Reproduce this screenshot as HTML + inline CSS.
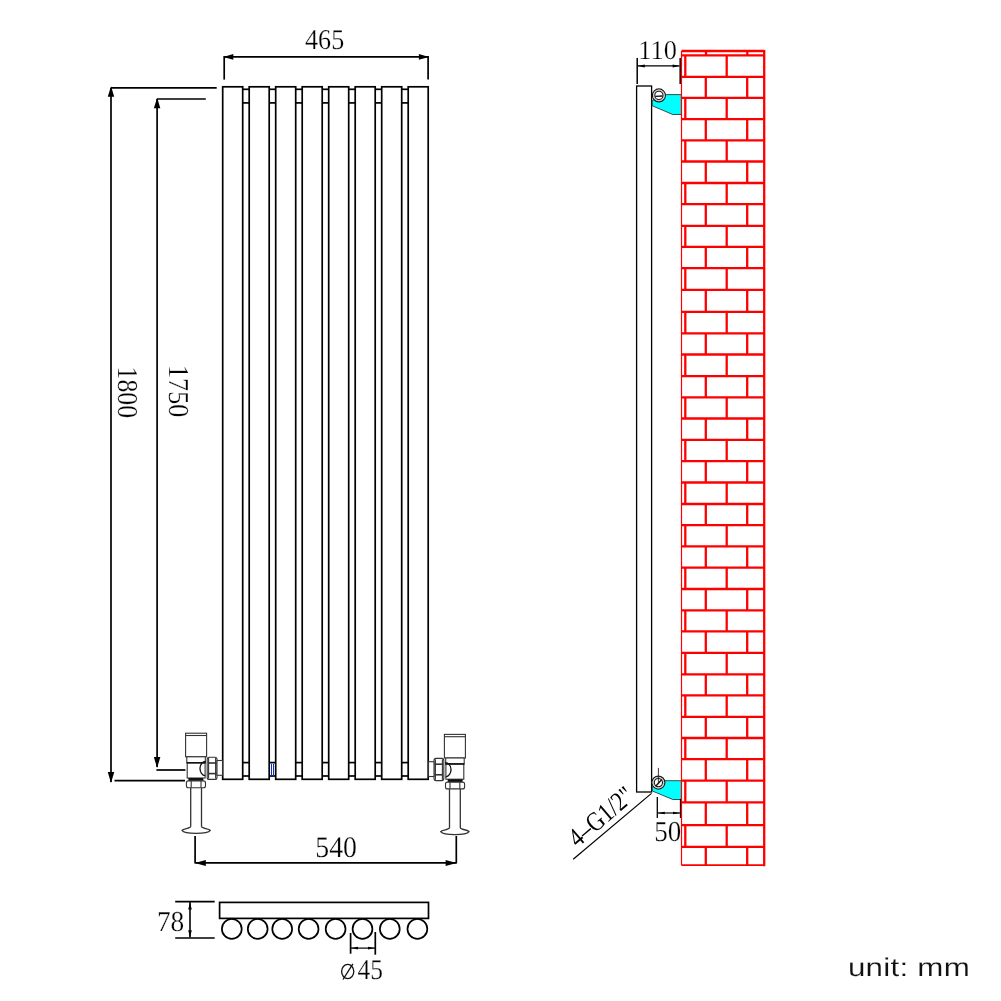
<!DOCTYPE html><html><head><meta charset="utf-8"><style>html,body{margin:0;padding:0;background:#fff;}svg{display:block;will-change:transform;}</style></head><body>
<svg width="1001" height="1001" viewBox="0 0 1001 1001">
<g fill="none" stroke="#000" stroke-width="1.7">
<rect x="222.70" y="86.8" width="20.0" height="692.50"/>
<rect x="249.20" y="86.8" width="20.0" height="692.50"/>
<rect x="275.70" y="86.8" width="20.0" height="692.50"/>
<rect x="302.20" y="86.8" width="20.0" height="692.50"/>
<rect x="328.70" y="86.8" width="20.0" height="692.50"/>
<rect x="355.20" y="86.8" width="20.0" height="692.50"/>
<rect x="381.70" y="86.8" width="20.0" height="692.50"/>
<rect x="408.20" y="86.8" width="20.0" height="692.50"/>
<line x1="242.70" y1="89.3" x2="249.20" y2="89.3"/>
<line x1="242.70" y1="102.9" x2="249.20" y2="102.9"/>
<line x1="242.70" y1="762.6" x2="249.20" y2="762.6"/>
<line x1="242.70" y1="776.0" x2="249.20" y2="776.0"/>
<line x1="269.20" y1="89.3" x2="275.70" y2="89.3"/>
<line x1="269.20" y1="102.9" x2="275.70" y2="102.9"/>
<line x1="269.20" y1="762.6" x2="275.70" y2="762.6"/>
<line x1="269.20" y1="776.0" x2="275.70" y2="776.0"/>
<line x1="295.70" y1="89.3" x2="302.20" y2="89.3"/>
<line x1="295.70" y1="102.9" x2="302.20" y2="102.9"/>
<line x1="295.70" y1="762.6" x2="302.20" y2="762.6"/>
<line x1="295.70" y1="776.0" x2="302.20" y2="776.0"/>
<line x1="322.20" y1="89.3" x2="328.70" y2="89.3"/>
<line x1="322.20" y1="102.9" x2="328.70" y2="102.9"/>
<line x1="322.20" y1="762.6" x2="328.70" y2="762.6"/>
<line x1="322.20" y1="776.0" x2="328.70" y2="776.0"/>
<line x1="348.70" y1="89.3" x2="355.20" y2="89.3"/>
<line x1="348.70" y1="102.9" x2="355.20" y2="102.9"/>
<line x1="348.70" y1="762.6" x2="355.20" y2="762.6"/>
<line x1="348.70" y1="776.0" x2="355.20" y2="776.0"/>
<line x1="375.20" y1="89.3" x2="381.70" y2="89.3"/>
<line x1="375.20" y1="102.9" x2="381.70" y2="102.9"/>
<line x1="375.20" y1="762.6" x2="381.70" y2="762.6"/>
<line x1="375.20" y1="776.0" x2="381.70" y2="776.0"/>
<line x1="401.70" y1="89.3" x2="408.20" y2="89.3"/>
<line x1="401.70" y1="102.9" x2="408.20" y2="102.9"/>
<line x1="401.70" y1="762.6" x2="408.20" y2="762.6"/>
<line x1="401.70" y1="776.0" x2="408.20" y2="776.0"/>
</g>
<g stroke="#0a2fc8" stroke-width="1.0"><line x1="271.5" y1="763.8" x2="271.5" y2="775.8"/><line x1="273.5" y1="763.8" x2="273.5" y2="775.8"/></g>
<g stroke="#000" stroke-width="1.7" fill="none">
<line x1="224" y1="56.9" x2="428.2" y2="56.9"/>
<line x1="224.2" y1="56.0" x2="224.2" y2="79.6"/>
<line x1="428.1" y1="56.0" x2="428.1" y2="79.6"/>
<line x1="111" y1="88" x2="111" y2="782"/>
<line x1="111" y1="87.8" x2="216.7" y2="87.8"/>
<line x1="114.5" y1="780.7" x2="185" y2="780.7"/>
<line x1="157.1" y1="99" x2="157.1" y2="767"/>
<line x1="157.1" y1="99" x2="205.8" y2="99"/>
<line x1="156.4" y1="770" x2="185.4" y2="770"/>
<line x1="195.5" y1="862.9" x2="456" y2="862.9"/>
<line x1="195.1" y1="836" x2="195.1" y2="863.6"/>
<line x1="456.3" y1="836" x2="456.3" y2="863.6"/>
</g>
<path d="M223.30,56.90 L233.30,59.70 L233.30,54.10 Z" fill="#000" stroke="none"/>
<path d="M428.90,56.90 L418.90,54.10 L418.90,59.70 Z" fill="#000" stroke="none"/>
<path d="M111.00,86.30 L107.75,96.80 L114.25,96.80 Z" fill="#000" stroke="none"/>
<path d="M111.00,783.00 L114.25,772.00 L107.75,772.00 Z" fill="#000" stroke="none"/>
<path d="M157.10,97.80 L153.85,108.30 L160.35,108.30 Z" fill="#000" stroke="none"/>
<path d="M157.10,768.00 L160.35,757.00 L153.85,757.00 Z" fill="#000" stroke="none"/>
<path d="M194.80,862.90 L205.80,865.90 L205.80,859.90 Z" fill="#000" stroke="none"/>
<path d="M456.60,862.90 L445.60,859.90 L445.60,865.90 Z" fill="#000" stroke="none"/>
<g stroke="#000" stroke-width="1.7" fill="none">
<rect x="219.6" y="902.4" width="208.9" height="16"/>
<circle cx="231.8" cy="928.9" r="9.9"/>
<circle cx="257.7" cy="928.9" r="9.9"/>
<circle cx="282.2" cy="928.9" r="9.9"/>
<circle cx="308.6" cy="928.9" r="9.9"/>
<circle cx="335.6" cy="928.9" r="9.9"/>
<circle cx="362.5" cy="928.9" r="9.9"/>
<circle cx="389.8" cy="928.9" r="9.9"/>
<circle cx="417.4" cy="928.9" r="9.9"/>
<line x1="175.2" y1="901.7" x2="214.7" y2="901.7"/>
<line x1="175.2" y1="938" x2="214.7" y2="938"/>
<line x1="190.0" y1="902" x2="190.0" y2="937.5" stroke-width="1.6"/>
<line x1="350.6" y1="933" x2="350.6" y2="953.7"/>
<line x1="375.3" y1="932" x2="375.3" y2="954.7"/>
<line x1="351" y1="948.1" x2="375" y2="948.1" stroke-width="1.2"/>
</g>
<path d="M190.00,902.40 L188.20,909.60 L191.80,909.60 Z" fill="#000" stroke="none"/>
<path d="M190.00,937.40 L191.80,930.20 L188.20,930.20 Z" fill="#000" stroke="none"/>
<path d="M351.20,948.10 L358.00,949.40 L358.00,946.80 Z" fill="#000" stroke="none"/>
<path d="M374.80,948.10 L368.00,946.80 L368.00,949.40 Z" fill="#000" stroke="none"/>
<g stroke="#000" stroke-width="1.4" fill="none">
<rect x="636.6" y="86" width="15" height="706" stroke-width="1.3"/>
</g>
<path d="M664,94.6 L681.4,94.6 L681.4,114.5 L672.8,114.5 L652.3,105.8 L652.3,100.6 Z" fill="#00ffff" stroke="#222" stroke-width="0.8"/>
<path d="M664,780.7 L681.4,780.7 L681.4,799.5 L672.8,799.5 L652.3,791.0 L652.3,786.7 Z" fill="#00ffff" stroke="#222" stroke-width="0.8"/>
<circle cx="658.9" cy="95.4" r="6.5" fill="#fff" stroke="#1a1a1a" stroke-width="1.2"/><circle cx="658.9" cy="95.4" r="5.3" fill="none" stroke="#bbb" stroke-width="0.9"/><circle cx="658.9" cy="95.4" r="4.1" fill="#fff" stroke="#1a1a1a" stroke-width="1.1"/><line x1="655.3" y1="96.4" x2="662.5" y2="96.0" stroke="#111" stroke-width="1.3"/>
<circle cx="658.4" cy="782.6" r="6.5" fill="#fff" stroke="#1a1a1a" stroke-width="1.2"/><circle cx="658.4" cy="782.6" r="5.3" fill="none" stroke="#bbb" stroke-width="0.9"/><circle cx="658.4" cy="782.6" r="4.1" fill="#fff" stroke="#1a1a1a" stroke-width="1.1"/><line x1="655.6" y1="786.2" x2="661.6" y2="779.8000000000001" stroke="#111" stroke-width="1.3"/><line x1="658.4" y1="767.9" x2="658.4" y2="784.1" stroke="#222" stroke-width="0.9"/>
<g stroke="#000" stroke-width="1.5" fill="none">
<line x1="637.2" y1="58" x2="637.2" y2="84"/>
<line x1="680.2" y1="58" x2="680.2" y2="84"/>
<line x1="638" y1="65.9" x2="679.5" y2="65.9" stroke-width="1.3"/>
<line x1="657.3" y1="797" x2="657.3" y2="818" stroke-width="1.3"/>
<line x1="680.5" y1="798.9" x2="680.5" y2="818" stroke-width="1.3"/>
<line x1="658" y1="813" x2="680" y2="813" stroke-width="1.2"/>
<line x1="573.2" y1="859.2" x2="651.5" y2="793.4" stroke-width="1.2"/>
</g>
<path d="M637.80,65.90 L644.80,67.40 L644.80,64.40 Z" fill="#000" stroke="none"/>
<path d="M679.60,65.90 L672.60,64.40 L672.60,67.40 Z" fill="#000" stroke="none"/>
<path d="M657.80,813.00 L664.80,814.30 L664.80,811.70 Z" fill="#000" stroke="none"/>
<path d="M680.00,813.00 L673.00,811.70 L673.00,814.30 Z" fill="#000" stroke="none"/>
<g stroke="#ff0000" fill="none" stroke-width="2.3">
<line x1="681.5" y1="51.0" x2="681.5" y2="865.2" stroke-width="1.2"/>
<line x1="764.2" y1="50.0" x2="764.2" y2="866.2"/>
<line x1="681.5" y1="51.0" x2="764.2" y2="51.0"/>
<line x1="681.5" y1="865.2" x2="764.2" y2="865.2" stroke-width="1.8"/>
<line x1="681.5" y1="55.3" x2="764.2" y2="55.3"/>
<line x1="706" y1="51.0" x2="706" y2="55.3"/><line x1="747.3" y1="51.0" x2="747.3" y2="55.3"/>
<line x1="681.5" y1="76.80" x2="764.2" y2="76.80"/>
<line x1="681.5" y1="97.90" x2="764.2" y2="97.90"/>
<line x1="681.5" y1="119.10" x2="764.2" y2="119.10"/>
<line x1="681.5" y1="140.40" x2="764.2" y2="140.40"/>
<line x1="681.5" y1="161.50" x2="764.2" y2="161.50"/>
<line x1="681.5" y1="183.00" x2="764.2" y2="183.00"/>
<line x1="681.5" y1="204.10" x2="764.2" y2="204.10"/>
<line x1="681.5" y1="225.90" x2="764.2" y2="225.90"/>
<line x1="681.5" y1="246.80" x2="764.2" y2="246.80"/>
<line x1="681.5" y1="268.20" x2="764.2" y2="268.20"/>
<line x1="681.5" y1="289.90" x2="764.2" y2="289.90"/>
<line x1="681.5" y1="311.90" x2="764.2" y2="311.90"/>
<line x1="681.5" y1="333.30" x2="764.2" y2="333.30"/>
<line x1="681.5" y1="354.50" x2="764.2" y2="354.50"/>
<line x1="681.5" y1="376.10" x2="764.2" y2="376.10"/>
<line x1="681.5" y1="397.40" x2="764.2" y2="397.40"/>
<line x1="681.5" y1="418.50" x2="764.2" y2="418.50"/>
<line x1="681.5" y1="439.90" x2="764.2" y2="439.90"/>
<line x1="681.5" y1="461.10" x2="764.2" y2="461.10"/>
<line x1="681.5" y1="482.50" x2="764.2" y2="482.50"/>
<line x1="681.5" y1="504.00" x2="764.2" y2="504.00"/>
<line x1="681.5" y1="525.10" x2="764.2" y2="525.10"/>
<line x1="681.5" y1="546.40" x2="764.2" y2="546.40"/>
<line x1="681.5" y1="567.60" x2="764.2" y2="567.60"/>
<line x1="681.5" y1="589.00" x2="764.2" y2="589.00"/>
<line x1="681.5" y1="610.40" x2="764.2" y2="610.40"/>
<line x1="681.5" y1="631.40" x2="764.2" y2="631.40"/>
<line x1="681.5" y1="652.80" x2="764.2" y2="652.80"/>
<line x1="681.5" y1="674.30" x2="764.2" y2="674.30"/>
<line x1="681.5" y1="695.40" x2="764.2" y2="695.40"/>
<line x1="681.5" y1="716.90" x2="764.2" y2="716.90"/>
<line x1="681.5" y1="738.00" x2="764.2" y2="738.00"/>
<line x1="681.5" y1="759.20" x2="764.2" y2="759.20"/>
<line x1="681.5" y1="780.60" x2="764.2" y2="780.60"/>
<line x1="681.5" y1="802.30" x2="764.2" y2="802.30"/>
<line x1="681.5" y1="825.10" x2="764.2" y2="825.10"/>
<line x1="681.5" y1="846.80" x2="764.2" y2="846.80"/>
<line x1="685.3" y1="55.30" x2="685.3" y2="76.80"/>
<line x1="726.7" y1="55.30" x2="726.7" y2="76.80"/>
<line x1="705.8" y1="76.80" x2="705.8" y2="97.90"/>
<line x1="747.2" y1="76.80" x2="747.2" y2="97.90"/>
<line x1="685.3" y1="97.90" x2="685.3" y2="119.10"/>
<line x1="726.7" y1="97.90" x2="726.7" y2="119.10"/>
<line x1="705.8" y1="119.10" x2="705.8" y2="140.40"/>
<line x1="747.2" y1="119.10" x2="747.2" y2="140.40"/>
<line x1="685.3" y1="140.40" x2="685.3" y2="161.50"/>
<line x1="726.7" y1="140.40" x2="726.7" y2="161.50"/>
<line x1="705.8" y1="161.50" x2="705.8" y2="183.00"/>
<line x1="747.2" y1="161.50" x2="747.2" y2="183.00"/>
<line x1="685.3" y1="183.00" x2="685.3" y2="204.10"/>
<line x1="726.7" y1="183.00" x2="726.7" y2="204.10"/>
<line x1="705.8" y1="204.10" x2="705.8" y2="225.90"/>
<line x1="747.2" y1="204.10" x2="747.2" y2="225.90"/>
<line x1="685.3" y1="225.90" x2="685.3" y2="246.80"/>
<line x1="726.7" y1="225.90" x2="726.7" y2="246.80"/>
<line x1="705.8" y1="246.80" x2="705.8" y2="268.20"/>
<line x1="747.2" y1="246.80" x2="747.2" y2="268.20"/>
<line x1="685.3" y1="268.20" x2="685.3" y2="289.90"/>
<line x1="726.7" y1="268.20" x2="726.7" y2="289.90"/>
<line x1="705.8" y1="289.90" x2="705.8" y2="311.90"/>
<line x1="747.2" y1="289.90" x2="747.2" y2="311.90"/>
<line x1="685.3" y1="311.90" x2="685.3" y2="333.30"/>
<line x1="726.7" y1="311.90" x2="726.7" y2="333.30"/>
<line x1="705.8" y1="333.30" x2="705.8" y2="354.50"/>
<line x1="747.2" y1="333.30" x2="747.2" y2="354.50"/>
<line x1="685.3" y1="354.50" x2="685.3" y2="376.10"/>
<line x1="726.7" y1="354.50" x2="726.7" y2="376.10"/>
<line x1="705.8" y1="376.10" x2="705.8" y2="397.40"/>
<line x1="747.2" y1="376.10" x2="747.2" y2="397.40"/>
<line x1="685.3" y1="397.40" x2="685.3" y2="418.50"/>
<line x1="726.7" y1="397.40" x2="726.7" y2="418.50"/>
<line x1="705.8" y1="418.50" x2="705.8" y2="439.90"/>
<line x1="747.2" y1="418.50" x2="747.2" y2="439.90"/>
<line x1="685.3" y1="439.90" x2="685.3" y2="461.10"/>
<line x1="726.7" y1="439.90" x2="726.7" y2="461.10"/>
<line x1="705.8" y1="461.10" x2="705.8" y2="482.50"/>
<line x1="747.2" y1="461.10" x2="747.2" y2="482.50"/>
<line x1="685.3" y1="482.50" x2="685.3" y2="504.00"/>
<line x1="726.7" y1="482.50" x2="726.7" y2="504.00"/>
<line x1="705.8" y1="504.00" x2="705.8" y2="525.10"/>
<line x1="747.2" y1="504.00" x2="747.2" y2="525.10"/>
<line x1="685.3" y1="525.10" x2="685.3" y2="546.40"/>
<line x1="726.7" y1="525.10" x2="726.7" y2="546.40"/>
<line x1="705.8" y1="546.40" x2="705.8" y2="567.60"/>
<line x1="747.2" y1="546.40" x2="747.2" y2="567.60"/>
<line x1="685.3" y1="567.60" x2="685.3" y2="589.00"/>
<line x1="726.7" y1="567.60" x2="726.7" y2="589.00"/>
<line x1="705.8" y1="589.00" x2="705.8" y2="610.40"/>
<line x1="747.2" y1="589.00" x2="747.2" y2="610.40"/>
<line x1="685.3" y1="610.40" x2="685.3" y2="631.40"/>
<line x1="726.7" y1="610.40" x2="726.7" y2="631.40"/>
<line x1="705.8" y1="631.40" x2="705.8" y2="652.80"/>
<line x1="747.2" y1="631.40" x2="747.2" y2="652.80"/>
<line x1="685.3" y1="652.80" x2="685.3" y2="674.30"/>
<line x1="726.7" y1="652.80" x2="726.7" y2="674.30"/>
<line x1="705.8" y1="674.30" x2="705.8" y2="695.40"/>
<line x1="747.2" y1="674.30" x2="747.2" y2="695.40"/>
<line x1="685.3" y1="695.40" x2="685.3" y2="716.90"/>
<line x1="726.7" y1="695.40" x2="726.7" y2="716.90"/>
<line x1="705.8" y1="716.90" x2="705.8" y2="738.00"/>
<line x1="747.2" y1="716.90" x2="747.2" y2="738.00"/>
<line x1="685.3" y1="738.00" x2="685.3" y2="759.20"/>
<line x1="726.7" y1="738.00" x2="726.7" y2="759.20"/>
<line x1="705.8" y1="759.20" x2="705.8" y2="780.60"/>
<line x1="747.2" y1="759.20" x2="747.2" y2="780.60"/>
<line x1="685.3" y1="780.60" x2="685.3" y2="802.30"/>
<line x1="726.7" y1="780.60" x2="726.7" y2="802.30"/>
<line x1="705.8" y1="802.30" x2="705.8" y2="825.10"/>
<line x1="747.2" y1="802.30" x2="747.2" y2="825.10"/>
<line x1="685.3" y1="825.10" x2="685.3" y2="846.80"/>
<line x1="726.7" y1="825.10" x2="726.7" y2="846.80"/>
<line x1="705.8" y1="846.80" x2="705.8" y2="865.20"/>
<line x1="747.2" y1="846.80" x2="747.2" y2="865.20"/>
</g>
<g fill="#fff" stroke="#333" stroke-width="1.1"><rect x="185.6" y="733.2" width="21" height="23.6"/><line x1="185.6" y1="735.5" x2="206.6" y2="735.5"/><rect x="186.8" y="756.8" width="18.5" height="6"/><rect x="187.2" y="762.8" width="17.9" height="15.2"/><line x1="186.8" y1="762.8" x2="205.5" y2="762.8" stroke="#111" stroke-width="1.5"/><path d="M205.9,761.4 A5.6,7.1 0 0,0 205.3,775.6" fill="none" stroke="#111" stroke-width="1.3"/><rect x="207.2" y="757.2" width="9.8" height="22.2" rx="2"/><line x1="208.6" y1="758" x2="208.6" y2="778.6"/><line x1="215.6" y1="758" x2="215.6" y2="778.6"/><line x1="208" y1="763" x2="216.5" y2="763" stroke-width="1.6"/><line x1="208" y1="773.6" x2="216.5" y2="773.6" stroke-width="1.6"/><rect x="217" y="760.5" width="5.5" height="14.8"/><rect x="188.4" y="778" width="14.9" height="2.8" fill="#111" stroke="none"/><rect x="186.4" y="780.9" width="19.1" height="6.8" rx="2"/><line x1="191.2" y1="781" x2="191.2" y2="787.6"/><line x1="201" y1="781" x2="201" y2="787.6"/><path d="M190.7,787.7 V827 M201.5,787.7 V827" fill="none" stroke-width="1.3"/><path d="M190.7,826.8 C190,828.5 183,828.6 182,830.4 C183.5,832.6 190,833.4 196.1,833.4 C202.2,833.4 208.7,832.6 210.3,830.4 C209.2,828.6 202.2,828.5 201.5,826.8" stroke-width="1.3"/></g>
<g transform="translate(651,1.2) scale(-1,1)"><g fill="#fff" stroke="#333" stroke-width="1.1"><rect x="185.6" y="733.2" width="21" height="23.6"/><line x1="185.6" y1="735.5" x2="206.6" y2="735.5"/><rect x="186.8" y="756.8" width="18.5" height="6"/><rect x="187.2" y="762.8" width="17.9" height="15.2"/><line x1="186.8" y1="762.8" x2="205.5" y2="762.8" stroke="#111" stroke-width="1.5"/><path d="M205.9,761.4 A5.6,7.1 0 0,0 205.3,775.6" fill="none" stroke="#111" stroke-width="1.3"/><rect x="207.2" y="757.2" width="9.8" height="22.2" rx="2"/><line x1="208.6" y1="758" x2="208.6" y2="778.6"/><line x1="215.6" y1="758" x2="215.6" y2="778.6"/><line x1="208" y1="763" x2="216.5" y2="763" stroke-width="1.6"/><line x1="208" y1="773.6" x2="216.5" y2="773.6" stroke-width="1.6"/><rect x="217" y="760.5" width="5.5" height="14.8"/><rect x="188.4" y="778" width="14.9" height="2.8" fill="#111" stroke="none"/><rect x="186.4" y="780.9" width="19.1" height="6.8" rx="2"/><line x1="191.2" y1="781" x2="191.2" y2="787.6"/><line x1="201" y1="781" x2="201" y2="787.6"/><path d="M190.7,787.7 V827 M201.5,787.7 V827" fill="none" stroke-width="1.3"/><path d="M190.7,826.8 C190,828.5 183,828.6 182,830.4 C183.5,832.6 190,833.4 196.1,833.4 C202.2,833.4 208.7,832.6 210.3,830.4 C209.2,828.6 202.2,828.5 201.5,826.8" stroke-width="1.3"/></g></g>
<g font-family="Liberation Serif, serif" fill="#000" stroke="#fff" stroke-width="0.25" text-rendering="geometricPrecision">
<text x="0" y="0" font-size="28.733" transform="translate(305.064,48.865) scale(0.9079,1)">465</text>
<text x="0" y="0" font-size="29.94" transform="translate(315.302,857.047) scale(0.9284,1)">540</text>
<text x="0" y="0" font-size="28.848" transform="translate(118.492,366.499) rotate(90) scale(0.8951,1)">1800</text>
<text x="0" y="0" font-size="28.955" transform="translate(168.529,364.984) rotate(90) scale(0.9037,1)">1750</text>
<text x="0" y="0" font-size="28.889" transform="translate(156.916,931.244) scale(0.9487,1)">78</text>
<text x="0" y="0" font-size="28.717" transform="translate(357.604,978.872) scale(0.8864,1)">45</text>
<text x="0" y="0" font-size="27.079" transform="translate(638.333,59.011) scale(0.976,1)">110</text>
<text x="0" y="0" font-size="28.949" transform="translate(654.193,841.171) scale(0.9346,1)">50</text>
</g>
<text x="0" y="0" font-family="Liberation Serif, serif" fill="#000" text-rendering="geometricPrecision" font-size="27" transform="translate(577.6,847.9) rotate(-40.3) scale(0.83,1)">4–G1/2"</text>
<g fill="none" stroke="#111" stroke-width="1.3"><ellipse cx="347.7" cy="971.5" rx="6.1" ry="7.1"/><line x1="343" y1="979.5" x2="352.9" y2="963.8"/></g>
<text x="0" y="0" transform="translate(847.9,976.1) scale(1.215,1)" font-family="Liberation Sans, sans-serif" font-size="25.8" letter-spacing="0.2" fill="#111" stroke="#fff" stroke-width="0.15" text-rendering="geometricPrecision">unit: mm</text>
</svg></body></html>
